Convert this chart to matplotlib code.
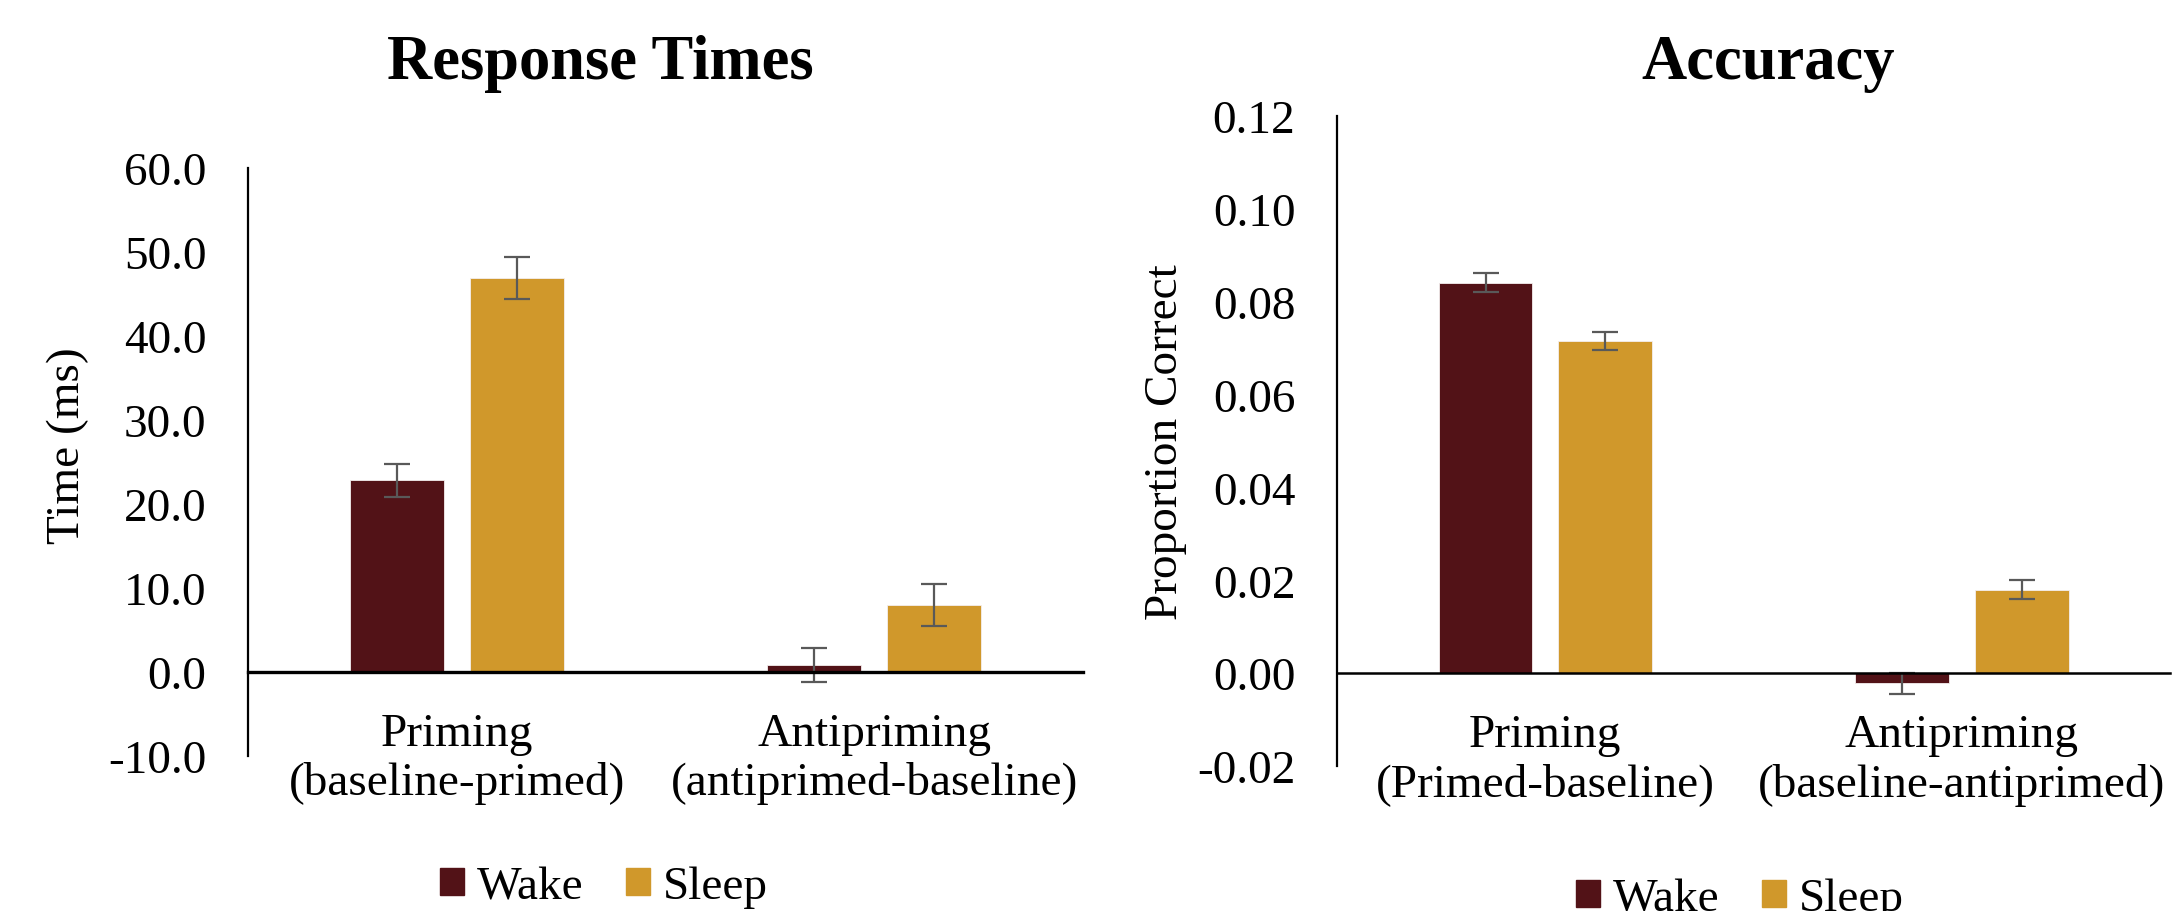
import numpy as np
import matplotlib
matplotlib.use('Agg')
from matplotlib import pyplot as plt
from matplotlib.patches import Patch
from matplotlib.ticker import FormatStrFormatter

plt.rcParams['font.family'] = ['Liberation Serif', 'DejaVu Serif']

groups = ['Wake', 'Sleep']
c_wake = '#521217'
c_sleep = '#D0982B'
c_err = '#595959'

rt_labels = ['Priming\n(baseline-primed)', 'Antipriming\n(antiprimed-baseline)']
rt_wake = [22.8, 0.8]
rt_sleep = [46.9, 8.0]
rt_wake_err = [2.0, 2.0]
rt_sleep_err = [2.5, 2.5]

acc_labels = ['Priming\n(Primed-baseline)', 'Antipriming\n(baseline-antiprimed)']
acc_wake = [0.0841, -0.0022]
acc_sleep = [0.0715, 0.0180]
acc_wake_err = [0.0020, 0.0022]
acc_sleep_err = [0.0020, 0.0020]

fs = 34
bw = 0.225
off = 0.1435

fig = plt.figure(figsize=(21.78, 9.12), dpi=100)
ax1 = fig.add_axes([0.1139, 0.1700, 0.3834, 0.6447])
ax2 = fig.add_axes([0.6139, 0.1590, 0.3825, 0.7127])


def draw(ax, labels, wake, sleep, werr, serr, ylim, step, fmt, zlw):
    x = np.arange(len(labels))
    ax.bar(x - off, wake, bw, color=c_wake, edgecolor='#f4eeee', linewidth=0.6, zorder=2)
    ax.bar(x + off, sleep, bw, color=c_sleep, edgecolor='#f4eeee', linewidth=0.6, zorder=2)
    ax.errorbar(x - off, wake, yerr=werr, fmt='none', ecolor=c_err, elinewidth=1.6,
                capsize=9.5, capthick=1.6, zorder=3)
    ax.errorbar(x + off, sleep, yerr=serr, fmt='none', ecolor=c_err, elinewidth=1.6,
                capsize=9.5, capthick=1.6, zorder=3)
    ax.set_xlim(-0.5, len(labels) - 0.5)
    ax.set_ylim(*ylim)
    ax.set_yticks(np.arange(ylim[0], ylim[1] + step / 2, step))
    ax.yaxis.set_major_formatter(FormatStrFormatter(fmt))
    ax.tick_params(axis='x', length=0, pad=29, labelsize=fs)
    ax.tick_params(axis='y', length=0, pad=30, labelsize=fs)
    ax.set_xticks(x)
    ax.set_xticklabels(labels)
    for lab in ax.get_xticklabels():
        lab.set_linespacing(1.16)
    for s in ['top', 'right']:
        ax.spines[s].set_visible(False)
    ax.spines['bottom'].set_position(('data', 0))
    ax.spines['bottom'].set_linewidth(zlw)
    ax.spines['bottom'].set_zorder(4)
    ax.spines['left'].set_linewidth(1.6)


draw(ax1, rt_labels, rt_wake, rt_sleep, rt_wake_err, rt_sleep_err, (-10, 60), 10, '%.1f', 2.4)
draw(ax2, acc_labels, acc_wake, acc_sleep, acc_wake_err, acc_sleep_err, (-0.02, 0.12), 0.02, '%.2f', 1.8)

fig.text(0.2755, 0.9134, 'Response Times', fontsize=45, fontweight='bold', ha='center', va='baseline')
fig.text(0.8118, 0.9134, 'Accuracy', fontsize=45, fontweight='bold', ha='center', va='baseline')

fig.text(68 / 2178, 1 - 446 / 912, 'Time (ms)', fontsize=fs, rotation=90, ha='center', va='center')
fig.text(1166 / 2178, 1 - 442 / 912, 'Proportion Correct', fontsize=fs, rotation=90, ha='center', va='center')

handles = [Patch(color=c_wake, label=groups[0]), Patch(color=c_sleep, label=groups[1])]
for cx, cy in [(604 / 2178, 1 - 888 / 912), (1740 / 2178, 1 - 900 / 912)]:
    fig.legend(handles=handles, loc='center', bbox_to_anchor=(cx, cy), ncol=2, frameon=False,
               fontsize=fs, handlelength=0.5, handleheight=0.5, handletextpad=0.28,
               columnspacing=0.9, borderpad=0, borderaxespad=0)

fig.savefig('out.png', dpi=100)
